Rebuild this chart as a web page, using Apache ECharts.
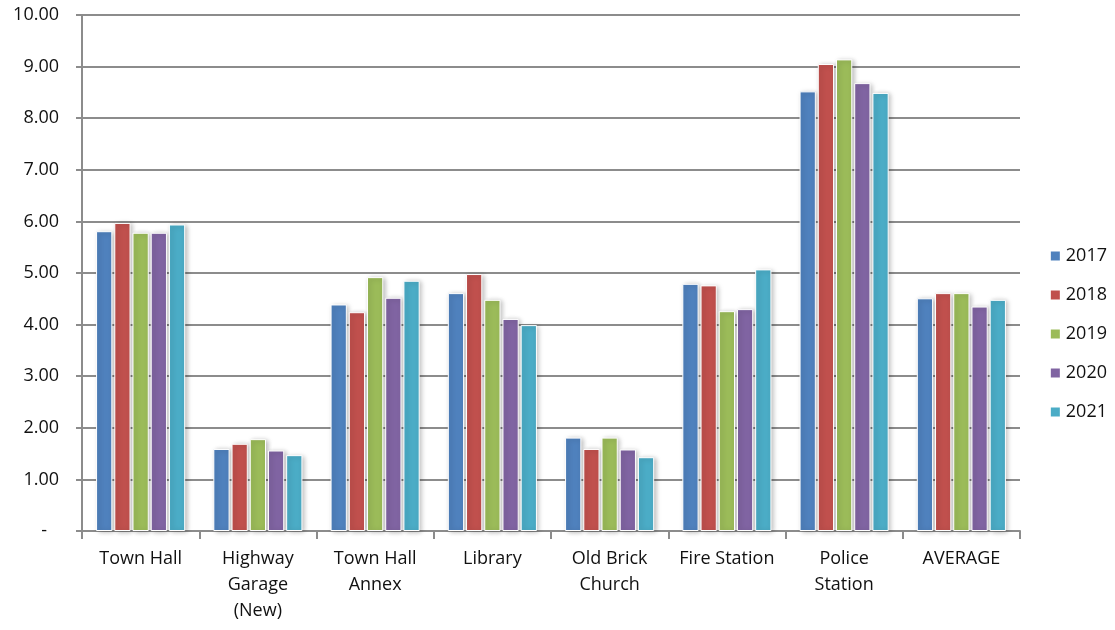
<!DOCTYPE html>
<html>
<head>
<meta charset="utf-8">
<script src="https://cdn.jsdelivr.net/npm/echarts@6/dist/echarts.min.js"></script>
<style>
  html, body { margin: 0; padding: 0; background: #fff; }
  #chart { width: 1115px; height: 630px; }
</style>
</head>
<body>
<div id="chart"></div>
<script>
// Buildings compared across five years
const categories = ['Town Hall', 'Highway\nGarage\n(New)', 'Town Hall\nAnnex', 'Library', 'Old Brick\nChurch', 'Fire Station', 'Police\nStation', 'AVERAGE'];
const years = ['2017', '2018', '2019', '2020', '2021'];

const values2017 = [5.81, 1.59, 4.39, 4.61, 1.81, 4.79, 8.52, 4.51];
const values2018 = [5.97, 1.69, 4.24, 4.98, 1.59, 4.76, 9.05, 4.61];
const values2019 = [5.78, 1.78, 4.92, 4.48, 1.81, 4.26, 9.14, 4.61];
const values2020 = [5.78, 1.56, 4.52, 4.11, 1.58, 4.30, 8.68, 4.35];
const values2021 = [5.94, 1.47, 4.85, 3.99, 1.43, 5.07, 8.49, 4.48];

const seriesValues = [values2017, values2018, values2019, values2020, values2021];
const colors = ['#4F81BD', '#C0504D', '#9BBB59', '#8064A2', '#4BACC6'];
const fontFamily = '"Open Sans", Lato, sans-serif';

const chart = echarts.init(document.getElementById('chart'), null, { renderer: 'canvas' });

chart.setOption({
  animation: false,
  color: colors,
  textStyle: { fontFamily: fontFamily },
  grid: { left: 82, right: 95, top: 15, bottom: 99, containLabel: false },
  legend: {
    orient: 'vertical',
    right: 3,
    top: 239,
    itemWidth: 11,
    itemHeight: 11,
    itemGap: 15,
    icon: 'rect',
    textStyle: { fontSize: 18, lineHeight: 24, color: '#111', fontFamily: fontFamily, padding: [0, 0, 0, 0] },
    data: years
  },
  xAxis: {
    type: 'category',
    data: categories,
    axisLine: { lineStyle: { color: '#8c8c8c', width: 2 } },
    axisTick: { show: true, length: 8, alignWithLabel: false, lineStyle: { color: '#8c8c8c', width: 2 } },
    axisLabel: {
      color: '#111',
      fontSize: 18,
      lineHeight: 26,
      margin: 15,
      interval: 0,
      fontFamily: fontFamily
    }
  },
  yAxis: {
    type: 'value',
    min: 0,
    max: 10,
    interval: 1,
    axisLine: { show: true, lineStyle: { color: '#8c8c8c', width: 2 } },
    axisTick: { show: true, length: 6, lineStyle: { color: '#8c8c8c', width: 2 } },
    splitLine: { lineStyle: { color: '#8c8c8c', width: 2 } },
    axisLabel: {
      color: '#111',
      fontSize: 18,
      margin: 23,
      fontFamily: fontFamily,
      formatter: function (v) { return v === 0 ? '{d|-}' : v.toFixed(2); },
      rich: { d: { fontSize: 18, color: '#111', padding: [0, 12, 0, 0] } }
    }
  },
  series: years.map(function (y, i) {
    return {
      name: y,
      type: 'bar',
      data: seriesValues[i],
      barGap: '12%',
      barCategoryGap: '24%',
      itemStyle: {
        color: colors[i],
        borderColor: '#ffffff',
        borderWidth: 1,
        shadowColor: 'rgba(0,0,0,0.28)',
        shadowBlur: 5,
        shadowOffsetX: 2,
        shadowOffsetY: 1
      }
    };
  })
});
</script>
</body>
</html>
